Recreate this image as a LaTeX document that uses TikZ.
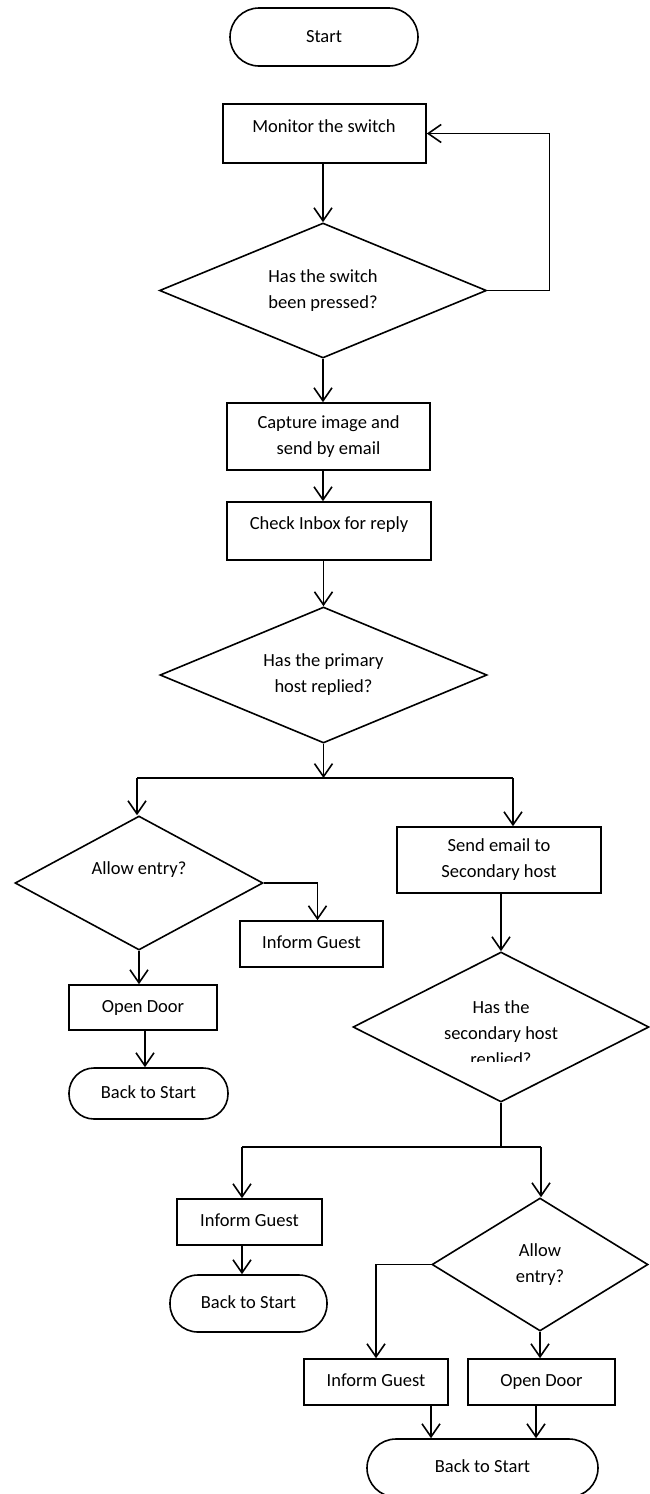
\documentclass[tikz,border=0pt]{standalone}
\usepackage{fontspec}
\setmainfont{Carlito}
\usetikzlibrary{arrows.meta,shapes.geometric}
\begin{document}
\begin{tikzpicture}[x=1pt,y=-1pt,
  every node/.style={font=\fontsize{18.5}{26}\selectfont, inner sep=0pt, align=center},
  proc/.style={draw, line width=1.6pt, rectangle},
  one/.style={text height=0.95em, text depth=0em},
  term/.style={draw, line width=1.6pt, rectangle, rounded corners=26pt},
  dec/.style={draw, line width=1.6pt, diamond, aspect=2.4},
  arr/.style={line width=1.6pt, -{Straight Barb[length=13pt,width=18pt,line width=1.6pt]}},
  ln/.style={line width=1.6pt},
]
\useasboundingbox[fill=white] (0,0) rectangle (650,1494);

\node[term, minimum width=188, minimum height=58, rounded corners=29pt] (start) at (324,37) {Start};

\node[proc, minimum width=203, minimum height=59] (mon) at (324.5,133.5) {};
\node (monT) at (324,126) {Monitor the switch};

\node[dec, minimum width=327, minimum height=135] (d1) at (323,290.5) {Has the switch\\been pressed?};
\draw[arr] (d1.north |- mon.south) -- (d1.north);
\draw[arr] (d1.east) -- ++(62,0) |- (mon.east);

\node[proc, minimum width=203, minimum height=67] (cap) at (328.5,436.5) {Capture image and\\send by email};
\draw[arr] (d1.south) -- (d1.south |- cap.north);

\node[proc, minimum width=204, minimum height=58] (inb) at (329,531) {};
\node (inbT) at (329,525) {Check Inbox for reply};
\draw[arr] (d1.south |- cap.south) -- (d1.south |- inb.north);

\node[dec, minimum width=327, minimum height=136] (d2) at (323.5,675) {Has the primary\\host replied?};
\draw[arr] (d2.north |- inb.south) -- (d2.north);

\coordinate (j1) at (323.5,778);
\coordinate (jL) at (137,778);
\coordinate (jR) at (513,778);
\draw[arr] (d2.south) -- (j1);
\draw[ln] (jL) -- (jR);

% left branch
\node[dec, minimum width=248, minimum height=134] (a1) at (139,883) {};
\node (a1T) at (139,870) {Allow entry?};
\draw[arr] (jL) -- (jL |- a1.north);

\node[proc, one, minimum width=143, minimum height=46] (ig1) at (311.5,944) {Inform Guest};
\draw[arr] (a1.east) -| ([xshift=6pt]ig1.north);

\node[proc, one, minimum width=148, minimum height=45] (od1) at (143,1007.5) {Open Door};
\draw[arr] (a1.south) -- (a1.south |- od1.north);

\node[term, one, minimum width=159, minimum height=51, rounded corners=25pt] (bs1) at (148.5,1093.5) {Back to Start};
\draw[arr] ([xshift=2pt]od1.south) -- ([xshift=2pt]od1.south |- bs1.north);

% right branch
\node[proc, minimum width=204, minimum height=66] (se) at (499,860) {Send email to\\Secondary host};
\draw[arr] (jR) -- (jR |- se.north);

\node[dec, minimum width=296, minimum height=150] (d3) at (501,1027) {};
\begin{scope}
  \clip (351,950) rectangle (647,1061);
  \node (d3T) at (501,1035) {Has the\\secondary host\\replied?};
\end{scope}
\draw[arr] (d3.north |- se.south) -- (d3.north);

\coordinate (j2) at (501,1147);
\coordinate (kL) at (242,1147);
\coordinate (kR) at (541,1147);
\draw[ln] (d3.south) -- (j2);
\draw[ln] (kL) -- (kR);

\node[proc, one, minimum width=145, minimum height=46] (ig2) at (249.5,1222) {Inform Guest};
\draw[arr] (kL) -- (kL |- ig2.north);

\node[term, one, minimum width=157, minimum height=57, rounded corners=28pt] (bs2) at (248.5,1303.5) {Back to Start};
\draw[arr] (kL |- ig2.south) -- (kL |- bs2.north);

\node[dec, minimum width=216, minimum height=133] (d4) at (540,1264.5) {Allow\\entry?};
\draw[arr] (kR) -- (kR |- d4.north);

\node[proc, one, minimum width=144, minimum height=46] (ig3) at (376,1382) {Inform Guest};
\node[proc, one, minimum width=147, minimum height=46] (od2) at (541.5,1382) {Open Door};
\draw[arr] (d4.west) -| (ig3.north);
\draw[arr] (d4.south) -- (d4.south |- od2.north);

\node[term, one, minimum width=231, minimum height=58, rounded corners=29pt] (bs3) at (482.5,1468) {Back to Start};
\draw[arr] ([xshift=55pt]ig3.south) -- ([xshift=55pt]ig3.south |- bs3.north);
\draw[arr] ([xshift=-5.5pt]od2.south) -- ([xshift=-5.5pt]od2.south |- bs3.north);
\end{tikzpicture}
\end{document}
